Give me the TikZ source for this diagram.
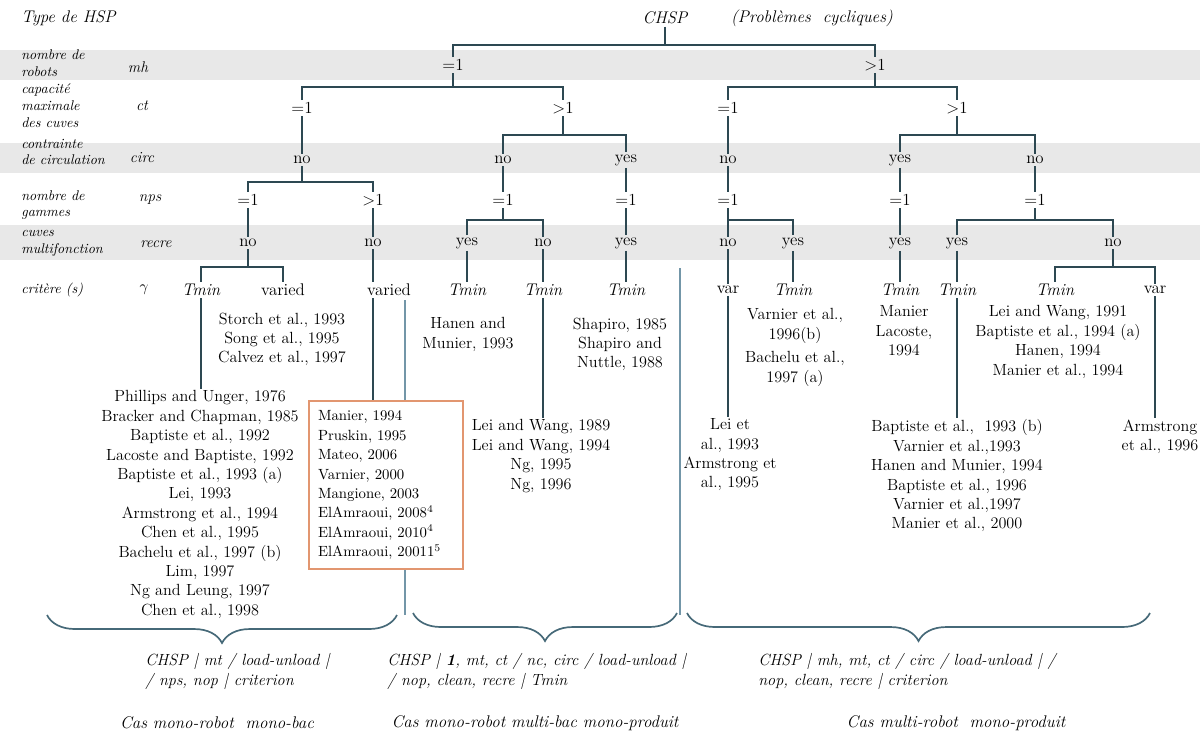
\documentclass[tikz,border=0pt]{standalone}
\usetikzlibrary{decorations.pathreplacing}
\definecolor{treecol}{RGB}{45,72,82}
\definecolor{sepcol}{RGB}{115,150,168}
\definecolor{bracecol}{RGB}{70,105,120}
\definecolor{bandcol}{RGB}{232,232,232}
\definecolor{boxcol}{RGB}{226,150,112}
\tikzset{
  treeline/.style={draw=treecol, line width=1.3pt},
  sepline/.style={draw=sepcol, line width=1.1pt},
  bracestyle/.style={draw=bracecol, line width=1.2pt, decorate,
    decoration={brace, mirror, amplitude=0.7cm}},
  tnode/.style={inner sep=1.5pt, font=\fontsize{12}{14}\selectfont},
  tcrit/.style={inner sep=1.5pt, font=\fontsize{12}{14}\selectfont\itshape},
  rowlab/.style={anchor=west, align=left, inner sep=0pt,
    font=\fontsize{10}{12}\selectfont\itshape},
  shortlab/.style={inner sep=0pt, font=\fontsize{11}{13}\selectfont\itshape},
  refs/.style={anchor=north, align=center, inner sep=1pt,
    font=\fontsize{11.5}{13.8}\selectfont},
  boxrefs/.style={anchor=north west, draw=boxcol, line width=1.5pt, fill=white,
    align=left, text width=3.4cm, minimum width=3.85cm, minimum height=4.2cm,
    font=\fontsize{10.5}{13.8}\selectfont},
  foot/.style={anchor=north west, align=left, inner sep=0pt,
    font=\fontsize{11.5}{14.2}\selectfont\itshape},
  casname/.style={inner sep=0pt, font=\fontsize{12}{14}\selectfont\itshape}
}
\begin{document}
\begin{tikzpicture}[x=0.025cm, y=-0.025cm]
    \useasboundingbox (0,0) rectangle (1200,733);
    %%grey bands behind the rows
    \fill[bandcol] (0,50) rectangle (1200,80);
    \fill[bandcol] (0,143) rectangle (1200,173);
    \fill[bandcol] (0,225) rectangle (1200,260);

    %%row names on the left
    \node[rowlab, font=\fontsize{12}{14}\selectfont\itshape] (ltype) at (21,18){Type de HSP};
    \node[rowlab] (lmh) at (21,63){nombre de\\robots};
        \node[shortlab] (smh) at (138,67){mh};
    \node[rowlab] (lct) at (21,106){capacité\\maximale\\des cuves};
        \node[shortlab] (sct) at (142,106){ct};
    \node[rowlab] (lcirc) at (21,152){contrainte\\de circulation};
        \node[shortlab] (scirc) at (142,158){circ};
    \node[rowlab] (lnps) at (21,205){nombre de\\gammes};
        \node[shortlab] (snps) at (150,200){nps};
    \node[rowlab] (lrecre) at (21,243){cuves\\multifonction};
        \node[shortlab] (srecre) at (156,244){recre};
    \node[rowlab] (lcrit) at (21,290){critère (s)};
        \node[shortlab] (scrit) at (144,290){$\gamma$};

    %%the tree nodes
    \node[tcrit] (root) at (665,18){CHSP};
    \node[tcrit] (pc) at (812,18){(Problèmes~~cycliques)};
    \node[tnode] (mh1) at (453,65){=1};
    \node[tnode] (mh2) at (875,65){>1};
    \node[tnode] (ct1) at (302,108){=1};
    \node[tnode] (ct2) at (563,108){>1};
    \node[tnode] (ct3) at (728,108){=1};
    \node[tnode] (ct4) at (957,108){>1};
    \node[tnode] (ci1) at (302,160){no};
    \node[tnode] (ci2) at (503,160){no};
    \node[tnode] (ci3) at (626,160){yes};
    \node[tnode] (ci4) at (728,160){no};
    \node[tnode] (ci5) at (900,160){yes};
    \node[tnode] (ci6) at (1035,160){no};
    \node[tnode] (np1) at (248,200){=1};
    \node[tnode] (np2) at (373,200){>1};
    \node[tnode] (np3) at (503,200){=1};
    \node[tnode] (np4) at (626,200){=1};
    \node[tnode] (np5) at (728,200){=1};
    \node[tnode] (np6) at (900,200){=1};
    \node[tnode] (np7) at (1035,200){=1};
    \node[tnode] (re1) at (248,243){no};
    \node[tnode] (re2) at (373,243){no};
    \node[tnode] (re3) at (467,243){yes};
    \node[tnode] (re4) at (543,243){no};
    \node[tnode] (re5) at (626,243){yes};
    \node[tnode] (re6) at (728,243){no};
    \node[tnode] (re7) at (793,243){yes};
    \node[tnode] (re8) at (900,243){yes};
    \node[tnode] (re9) at (957,243){yes};
    \node[tnode] (re10) at (1113,243){no};
    \node[tcrit] (cr1) at (201,290){Tmin};
    \node[tnode] (cr2) at (283,290){varied};
    \node[tnode] (cr3) at (389,290){varied};
    \node[tcrit] (cr4) at (467,290){Tmin};
    \node[tcrit] (cr5) at (543,290){Tmin};
    \node[tcrit] (cr6) at (626,290){Tmin};
    \node[tnode] (cr7) at (728,290){var};
    \node[tcrit] (cr8) at (793,290){Tmin};
    \node[tcrit] (cr9) at (900,290){Tmin};
    \node[tcrit] (cr10) at (957,290){Tmin};
    \node[tcrit] (cr11) at (1055,290){Tmin};
    \node[tnode] (cr12) at (1155,290){var};

    %%heights of the bars
    \coordinate (bar0) at (0,45);
    \coordinate (bar1) at (0,87);
    \coordinate (bar2) at (0,135);
    \coordinate (bar3) at (0,182);
    \coordinate (bar4) at (0,220);
    \coordinate (bar5) at (0,267);

    %%draw the branches
    \draw[treeline] (root) -- (root |- bar0);
    \draw[treeline] (mh1) |- (mh2 |- bar0) -- (mh2);
    \draw[treeline] (mh1) -- (mh1 |- bar1);
        \draw[treeline] (ct1) |- (ct2 |- bar1) -- (ct2);
    \draw[treeline] (mh2) -- (mh2 |- bar1);
        \draw[treeline] (ct3) |- (ct4 |- bar1) -- (ct4);
    \draw[treeline] (ct1) -- (ci1);
    \draw[treeline] (ct2) -- (ct2 |- bar2);
        \draw[treeline] (ci2) |- (ci3 |- bar2) -- (ci3);
    \draw[treeline] (ct3) -- (ci4);
    \draw[treeline] (ct4) -- (ct4 |- bar2);
        \draw[treeline] (ci5) |- (ci6 |- bar2) -- (ci6);
    \draw[treeline] (ci1) -- (ci1 |- bar3);
        \draw[treeline] (np1) |- (np2 |- bar3) -- (np2);
    \draw[treeline] (ci2) -- (np3);
    \draw[treeline] (ci3) -- (np4);
    \draw[treeline] (ci4) -- (np5);
    \draw[treeline] (ci5) -- (np6);
    \draw[treeline] (ci6) -- (np7);
    \draw[treeline] (np1) -- (re1);
    \draw[treeline] (np2) -- (re2);
    \draw[treeline] (np3) -- (np3 |- bar4);
        \draw[treeline] (re3) |- (re4 |- bar4) -- (re4);
    \draw[treeline] (np4) -- (re5);
    \draw[treeline] (np5) -- (np5 |- bar4);
        \draw[treeline] (re6) |- (re7 |- bar4) -- (re7);
    \draw[treeline] (np6) -- (re8);
    \draw[treeline] (np7) -- (np7 |- bar4);
        \draw[treeline] (re9) |- (re10 |- bar4) -- (re10);
    \draw[treeline] (re1) -- (re1 |- bar5);
        \draw[treeline] (cr1) |- (cr2 |- bar5) -- (cr2);
    \draw[treeline] (re2) -- (re2 |- cr3.north);
    \draw[treeline] (re3) -- (cr4);
    \draw[treeline] (re4) -- (cr5);
    \draw[treeline] (re5) -- (cr6);
    \draw[treeline] (re6) -- (cr7);
    \draw[treeline] (re7) -- (cr8);
    \draw[treeline] (re8) -- (cr9);
    \draw[treeline] (re9) -- (cr10);
    \draw[treeline] (re10) -- (re10 |- bar5);
        \draw[treeline] (cr11) |- (cr12 |- bar5) -- (cr12);

    %%separators and braces
    \coordinate (s1) at (405,615);
    \coordinate (s2) at (680,615);
    \draw[sepline] (s1 |- 0,300) -- (s1);
    \draw[sepline] (s2 |- 0,268) -- (s2);
    \draw[bracestyle] (47,615) -- (397,615);
    \draw[bracestyle] (413,613) -- (677,613);
    \draw[bracestyle] (687,613) -- (1150,613);

    %%the references
    \node[refs] (refA) at (200,389){Phillips and Unger, 1976\\Bracker and Chapman, 1985\\Baptiste et al., 1992\\Lacoste and Baptiste, 1992\\Baptiste et al., 1993 (a)\\Lei, 1993\\Armstrong et al., 1994\\Chen et al., 1995\\Bachelu et al., 1997 (b)\\Lim, 1997\\Ng and Leung, 1997\\Chen et al., 1998};
    \node[refs] (refB) at (282,311){Storch et al., 1993\\Song et al., 1995\\Calvez et al., 1997};
    \node[boxrefs] (box) at (308,400){Manier, 1994\\Pruskin, 1995\\Mateo, 2006\\Varnier, 2000\\Mangione, 2003\\ElAmraoui, 2008\textsuperscript{4}\\ElAmraoui, 2010\textsuperscript{4}\\ElAmraoui, 20011\textsuperscript{5}};
    \node[refs] (refC) at (468,316){Hanen and\\Munier, 1993};
    \node[refs] (refD) at (541,418){Lei and Wang, 1989\\Lei and Wang, 1994\\Ng, 1995\\Ng, 1996};
    \node[refs] (refE) at (620,316){Shapiro, 1985\\Shapiro and\\Nuttle, 1988};
    \node[refs] (refF) at (730,417){Lei et\\al., 1993\\Armstrong et\\al., 1995};
    \node[refs] (refG) at (795,307){Varnier et al.,\\1996(b)\\[3pt]Bachelu et al.,\\1997 (a)};
    \node[refs] (refH) at (904,304){Manier\\Lacoste,\\1994};
    \node[refs] (refI) at (957,418){Baptiste et al.,~ 1993 (b)\\Varnier et al.,1993\\Hanen and Munier, 1994\\Baptiste et al., 1996\\Varnier et al.,1997\\Manier et al., 2000};
    \node[refs] (refJ) at (1058,304){Lei and Wang, 1991\\Baptiste et al., 1994 (a)\\Hanen, 1994\\Manier et al., 1994};
    \node[refs] (refK) at (1160,418){Armstrong\\et al., 1996};

    %%lines down to the references
    \draw[treeline] (cr1) -- (cr1 |- refA.north);
    \draw[treeline] (re2 |- cr3.south) -- (re2 |- box.north);
    \draw[treeline] (cr5) -- (cr5 |- refD.north);
    \draw[treeline] (cr7) -- (cr7 |- refF.north);
    \draw[treeline] (cr10) -- (cr10 |- refI.north);
    \draw[treeline] (cr12) -- (cr12 |- refK.north);

    %%notations and names of the cases
    \node[foot] (nt1) at (145,653){CHSP | mt / load-unload |\\/ nps, nop | criterion};
    \node[foot] (nt2) at (387,653){CHSP | \textbf{1}, mt, ct / nc, circ / load-unload |\\/ nop, clean, recre | Tmin};
    \node[foot] (nt3) at (758,653){CHSP | mh, mt, ct / circ / load-unload | /\\nop, clean, recre | criterion};
    \node[casname] (cas1) at (217,723){Cas mono-robot~ mono-bac};
    \node[casname] (cas2) at (535,723){Cas mono-robot multi-bac mono-produit};
    \node[casname] (cas3) at (956,723){Cas multi-robot~ mono-produit};
\end{tikzpicture}
\end{document}
